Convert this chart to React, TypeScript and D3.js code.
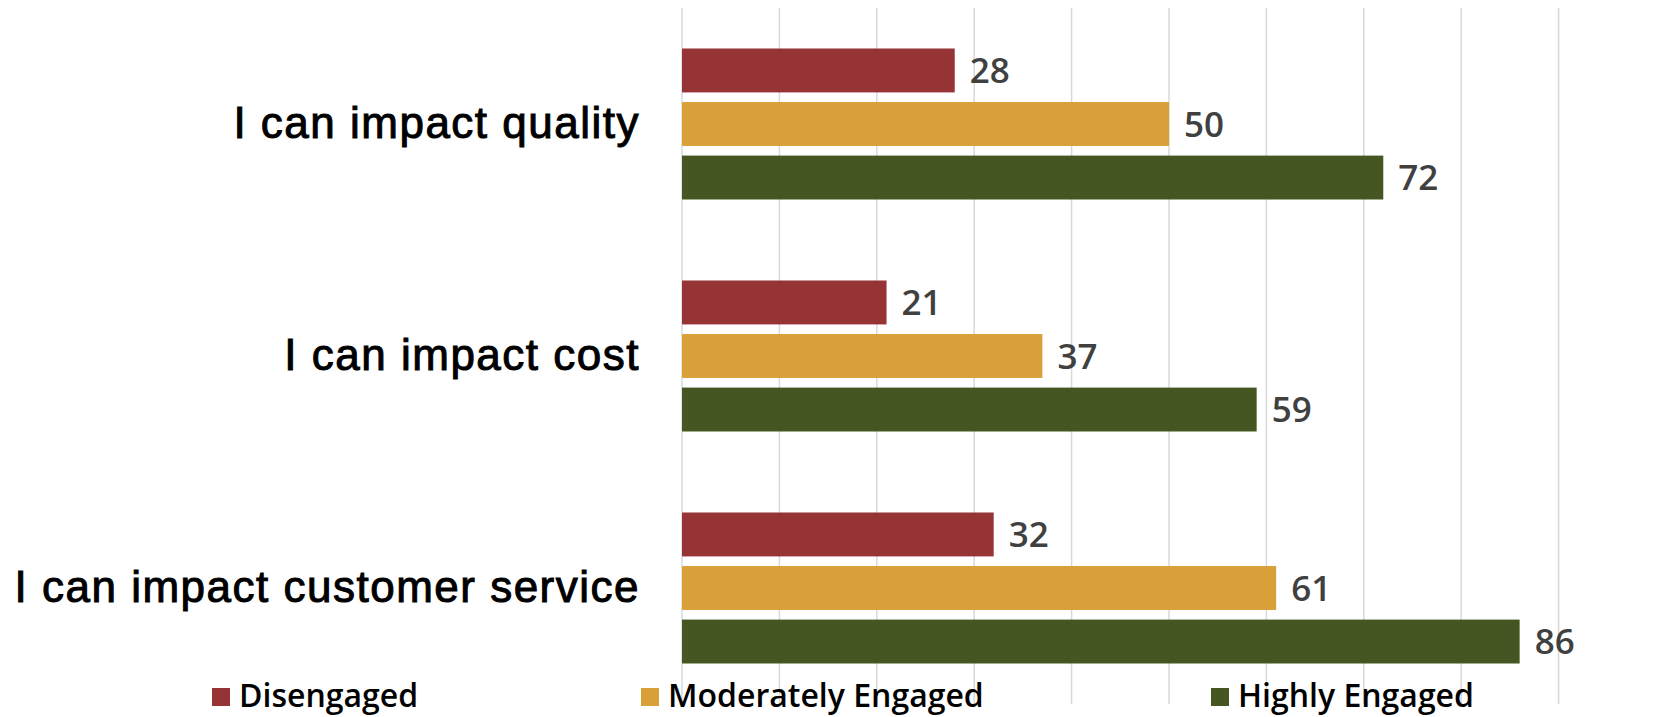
import React from 'react';
import * as d3 from 'd3';

// chart data
const categories = ['I can impact quality', 'I can impact cost', 'I can impact customer service'];
const seriesNames = ['Disengaged', 'Moderately Engaged', 'Highly Engaged'];
const seriesColors = ['#953335', '#D9A03A', '#465622'];
const disengaged = [28, 21, 32];
const moderatelyEngaged = [50, 37, 61];
const highlyEngaged = [72, 59, 86];
const gridTicks = [0, 10, 20, 30, 40, 50, 60, 70, 80, 90];

const seriesValues = [disengaged, moderatelyEngaged, highlyEngaged];

const width = 1656;
const height = 717;

export default function App() {
  const x = d3.scaleLinear().domain([0, 100]).range([682, 1656]);
  const y = d3.scaleBand<string>().domain(categories).range([8, 704]).padding(0);
  const groupSpan = 151;
  const inner = d3
    .scaleBand<string>()
    .domain(seriesNames)
    .range([0, groupSpan])
    .paddingInner(0.18);

  const legendX = [212, 641, 1211];

  return (
    <svg
      width={width}
      height={height}
      style={{ position: 'absolute', left: 0, top: 0, background: '#fff' }}
    >
      {/* vertical gridlines */}
      {gridTicks.map(t => (
        <line
          key={t}
          x1={x(t)}
          x2={x(t)}
          y1={y.range()[0]}
          y2={y.range()[1]}
          stroke="#d9d9d9"
          strokeWidth={1.5}
        />
      ))}

      {categories.map((cat, ci) => {
        const top = y(cat)! + (y.bandwidth() - groupSpan) / 2;
        const mid = y(cat)! + y.bandwidth() / 2;
        return (
          <g key={cat}>
            <text
              x={640}
              y={mid + 14}
              textAnchor="end"
              fontFamily="'Liberation Sans', Arial, sans-serif"
              fontSize={44}
              letterSpacing={1.5}
              fill="#000"
              stroke="#000"
              strokeWidth={1}
            >
              {cat}
            </text>
            {seriesNames.map((s, si) => {
              const v = seriesValues[si][ci];
              const by = top + inner(s)!;
              return (
                <g key={s}>
                  <rect
                    x={x(0)}
                    y={by}
                    width={x(v) - x(0)}
                    height={inner.bandwidth()}
                    fill={seriesColors[si]}
                  />
                  <text
                    x={x(v) + 15}
                    y={by + inner.bandwidth() / 2 + 12.6}
                    fontFamily="'Open Sans', sans-serif"
                    fontWeight={600}
                    fontSize={35}
                    fill="#404040"
                  >
                    {v}
                  </text>
                </g>
              );
            })}
          </g>
        );
      })}

      {/* legend */}
      {seriesNames.map((s, si) => (
        <g key={s} transform={`translate(${legendX[si]}, 697)`}>
          <rect x={0} y={-9} width={18} height={18} fill={seriesColors[si]} />
          <text
            x={27}
            y={10}
            fontFamily="'Open Sans', sans-serif"
            fontWeight={600}
            fontSize={32}
            fill="#000"
          >
            {s}
          </text>
        </g>
      ))}
    </svg>
  );
}
